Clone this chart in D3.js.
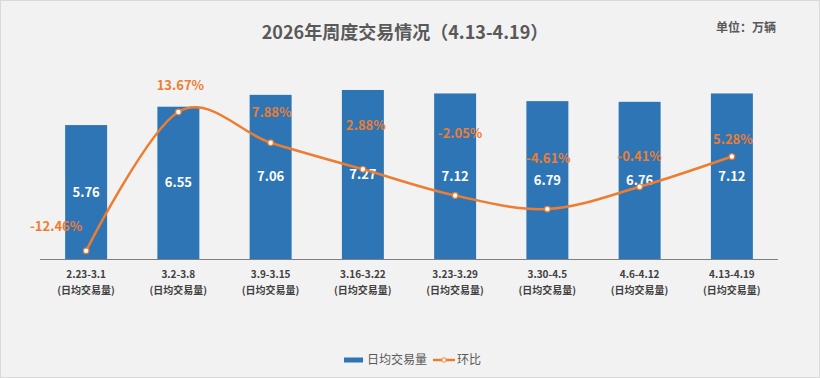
<!DOCTYPE html>
<html>
<head>
<meta charset="utf-8">
<script src="https://cdn.jsdelivr.net/npm/d3@7"></script>
<style>
  body { margin: 0; background: #fff; }
  svg { display: block; font-family: "Microsoft YaHei", "Noto Sans CJK SC", sans-serif; }
</style>
</head>
<body>
<div id="chart"></div>
<script>
// data
const weeks = ["2.23-3.1", "3.2-3.8", "3.9-3.15", "3.16-3.22", "3.23-3.29", "3.30-4.5", "4.6-4.12", "4.13-4.19"];
const dailyVolume = [5.76, 6.55, 7.06, 7.27, 7.12, 6.79, 6.76, 7.12];
const momChange = [-12.46, 13.67, 7.88, 2.88, -2.05, -4.61, -0.41, 5.28];

// hand placed percent labels (offset from the point, px)
const pctLabelDx = [-30, 2, 1, 3, 5, 1, 0, 1];
const pctLabelDy = [-24, -27, -30, -44, -62, -51, -30, -17];

const width = 820, height = 378;
const margin = {left: 40, right: 42, top: 73, bottom: 119};
const color_blue = "#2e75b6", color_orange = "#ed7d31";

let svg = d3.select("#chart")
            .append("svg")
            .attr("width", width)
            .attr("height", height);

svg.append("rect")
   .attr("x", 0.5).attr("y", 0.5)
   .attr("width", width - 1).attr("height", height - 1)
   .attr("fill", "#f2f2f2")
   .attr("stroke", "#d9d9d9");

let x = d3.scaleBand()
          .domain(weeks)
          .range([margin.left, width - margin.right])
          .paddingInner(0.545)
          .paddingOuter(0.2725);

let y = d3.scaleLinear()
          .domain([0, 8])
          .range([height - margin.bottom, margin.top]);

let y2 = d3.scaleLinear()
           .domain([-14, 21])
           .range([height - margin.bottom, margin.top]);

// title
svg.append("text")
   .attr("x", 405).attr("y", 33)
   .attr("dy", "0.35em")
   .attr("text-anchor", "middle")
   .style("font-size", "18px")
   .style("font-weight", "bold")
   .attr("fill", "#595959")
   .text("2026年周度交易情况（4.13-4.19）");

svg.append("text")
   .attr("x", 776).attr("y", 28)
   .attr("dy", "0.35em")
   .attr("text-anchor", "end")
   .style("font-size", "12px")
   .style("font-weight", "bold")
   .attr("fill", "#595959")
   .text("单位：万辆");

// bars
svg.append("g")
   .selectAll("rect")
   .data(dailyVolume)
   .enter()
   .append("rect")
   .attr("x", (d, i) => x(weeks[i]))
   .attr("y", d => y(d))
   .attr("width", x.bandwidth())
   .attr("height", d => y(0) - y(d))
   .attr("fill", color_blue);

// x axis
svg.append("g")
   .attr("transform", "translate(0," + y(0) + ")")
   .call(d3.axisBottom(x).tickSize(0).tickFormat(""))
   .call(g => g.select(".domain").attr("stroke", "#7f7f7f").attr("d", "M" + margin.left + ",0.5H" + (width - margin.right)));

let tick = svg.append("g")
   .selectAll("g")
   .data(weeks)
   .enter()
   .append("g")
   .attr("transform", d => "translate(" + (x(d) + x.bandwidth() / 2) + ",0)");

tick.append("text")
    .attr("y", 274.5)
    .attr("dy", "0.35em")
    .attr("text-anchor", "middle")
    .style("font-size", "10px")
    .style("font-weight", "bold")
    .attr("fill", "#404040")
    .text(d => d);

tick.append("text")
    .attr("y", 290)
    .attr("dy", "0.35em")
    .attr("text-anchor", "middle")
    .style("font-size", "10px")
    .style("font-weight", "bold")
    .attr("fill", "#404040")
    .text("(日均交易量)");

// bar values
svg.append("g")
   .selectAll("text")
   .data(dailyVolume)
   .enter()
   .append("text")
   .attr("x", (d, i) => x(weeks[i]) + x.bandwidth() / 2)
   .attr("y", d => (y(d) + y(0)) / 2)
   .attr("dy", "0.35em")
   .attr("text-anchor", "middle")
   .style("font-size", "13px")
   .style("font-weight", "bold")
   .attr("fill", "#fff")
   .text(d => d.toFixed(2));

// line
let cx = (d, i) => x(weeks[i]) + x.bandwidth() / 2;

let line = d3.line()
             .x(cx)
             .y(d => y2(d))
             .curve(d3.curveCatmullRom.alpha(0));

svg.append("path")
   .datum(momChange)
   .attr("d", line)
   .attr("fill", "none")
   .attr("stroke", color_orange)
   .attr("stroke-width", 2.5);

svg.append("g")
   .selectAll("circle")
   .data(momChange)
   .enter()
   .append("circle")
   .attr("cx", cx)
   .attr("cy", d => y2(d))
   .attr("r", 2.8)
   .attr("fill", "#fff")
   .attr("stroke", color_orange)
   .attr("stroke-width", 1.2);

svg.append("g")
   .selectAll("text")
   .data(momChange)
   .enter()
   .append("text")
   .attr("x", (d, i) => cx(d, i) + pctLabelDx[i])
   .attr("y", (d, i) => y2(d) + pctLabelDy[i])
   .attr("dy", "0.35em")
   .attr("text-anchor", "middle")
   .style("font-size", "13px")
   .style("font-weight", "bold")
   .attr("fill", color_orange)
   .text(d => d.toFixed(2) + "%");

// legend
let legend = svg.append("g");

legend.append("rect")
      .attr("x", 344).attr("y", 357.5)
      .attr("width", 19).attr("height", 5)
      .attr("fill", color_blue);

legend.append("text")
      .attr("x", 367).attr("y", 360)
      .attr("dy", "0.35em")
      .style("font-size", "12px")
      .attr("fill", "#595959")
      .text("日均交易量");

legend.append("line")
      .attr("x1", 433).attr("x2", 455)
      .attr("y1", 360).attr("y2", 360)
      .attr("stroke", color_orange)
      .attr("stroke-width", 2.5);

legend.append("circle")
      .attr("cx", 444).attr("cy", 360)
      .attr("r", 2.2)
      .attr("fill", "#fff")
      .attr("stroke", color_orange)
      .attr("stroke-width", 1);

legend.append("text")
      .attr("x", 457).attr("y", 360)
      .attr("dy", "0.35em")
      .style("font-size", "12px")
      .attr("fill", "#595959")
      .text("环比");
</script>
</body>
</html>
